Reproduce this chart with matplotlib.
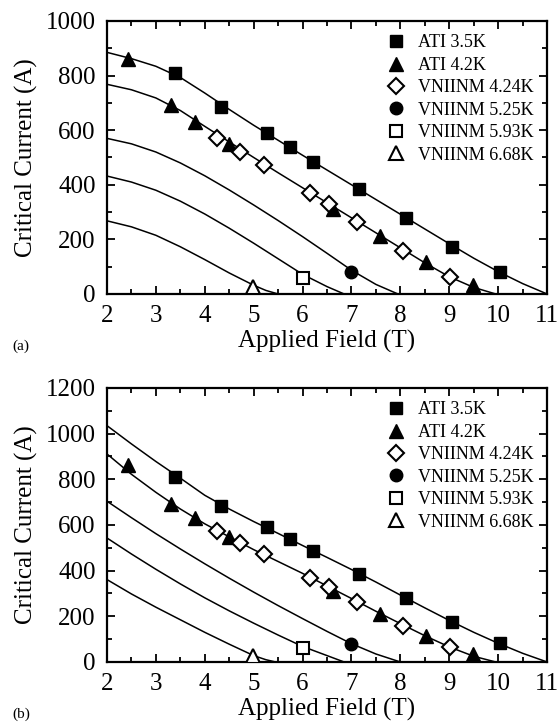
#!/usr/bin/env python3
"""Critical current vs applied field, two fit variants (a) and (b)."""

import matplotlib
matplotlib.use("Agg")
import matplotlib.pyplot as plt
from matplotlib.ticker import MultipleLocator

# measured points (same in both panels)
ati35_x = [3.39, 4.33, 5.27, 5.74, 6.22, 7.16, 8.11, 9.06, 10.03]
ati35_y = [808, 684, 591, 538, 485, 385, 280, 173, 81]
ati42_x = [2.44, 3.30, 3.80, 4.49, 6.62, 7.58, 8.53, 9.49]
ati42_y = [862, 692, 629, 549, 313, 211, 116, 34]
vn424_x = [4.24, 4.73, 5.21, 6.15, 6.55, 7.11, 8.05, 9.01]
vn424_y = [573, 520, 471, 369, 328, 262, 159, 64]
vn525_x = [7.00]
vn525_y = [80]
vn593_x = [6.00]
vn593_y = [60]
vn668_x = [4.98]
vn668_y = [27]

labels = ["ATI 3.5K", "ATI 4.2K", "VNIINM 4.24K", "VNIINM 5.25K",
          "VNIINM 5.93K", "VNIINM 6.68K"]

# fit curves, panel (a)
a1_x = [2, 2.5, 3, 3.5, 4, 4.5, 5, 5.5, 6, 6.5, 7, 7.5, 8, 8.5, 9, 9.5, 10, 10.5, 11]
a1_y = [885, 862, 834, 793, 736, 676, 618, 563, 508, 454, 400, 346, 292, 238, 184, 131, 82, 38, 0]
a2_x = [2, 2.5, 3, 3.5, 4, 4.5, 5, 5.5, 6, 6.5, 7, 7.5, 8, 8.5, 9, 9.5, 9.95]
a2_y = [768, 748, 718, 672, 614, 557, 500, 444, 389, 334, 279, 224, 169, 114, 63, 24, 0]
a3_x = [2, 2.5, 3, 3.5, 4, 4.5, 5, 5.5, 6, 6.5, 7, 7.5, 7.95]
a3_y = [570, 550, 520, 480, 433, 381, 326, 269, 210, 149, 87, 35, 0]
a4_x = [2, 2.5, 3, 3.5, 4, 4.5, 5, 5.5, 6, 6.5, 6.85]
a4_y = [432, 410, 380, 340, 293, 241, 186, 129, 72, 27, 0]
a5_x = [2, 2.5, 3, 3.5, 4, 4.5, 5, 5.25, 5.5]
a5_y = [268, 246, 215, 173, 126, 77, 32, 13, 0]

# fit curves, panel (b)
b1_x = [2, 2.5, 3, 3.5, 4, 4.5, 5, 5.5, 6, 6.5, 7, 7.5, 8, 8.5, 9, 9.5, 10, 10.5, 11]
b1_y = [1035, 955, 878, 805, 730, 670, 615, 563, 510, 458, 405, 350, 293, 237, 182, 130, 82, 38, 0]
b2_x = [2, 2.5, 3, 3.5, 4, 4.5, 5, 5.5, 6, 6.5, 7, 7.5, 8, 8.5, 9, 9.5, 9.95]
b2_y = [911, 822, 743, 670, 605, 548, 492, 440, 388, 333, 278, 222, 168, 115, 66, 25, 0]
b3_x = [2, 2.5, 3, 3.5, 4, 4.5, 5, 5.5, 6, 6.5, 7, 7.5, 8]
b3_y = [704, 632, 562, 495, 430, 367, 306, 247, 190, 134, 80, 35, 0]
b4_x = [2, 2.5, 3, 3.5, 4, 4.5, 5, 5.5, 6, 6.5, 6.85]
b4_y = [543, 473, 406, 342, 281, 224, 170, 118, 68, 28, 0]
b5_x = [2, 2.5, 3, 3.5, 4, 4.5, 5, 5.25, 5.45]
b5_y = [361, 298, 240, 185, 130, 78, 28, 10, 0]

plt.rcParams.update({
    "font.family": ["Liberation Serif", "DejaVu Serif"],
})


def draw_panel(ax, curves, ymax, tag):
    for cx, cy in curves:
        ax.plot(cx, cy, color="black", lw=1.1, zorder=2)

    kw = dict(ls="none", color="black", zorder=3)
    ax.plot(ati35_x, ati35_y, marker="s", ms=8, mfc="black", label=labels[0], **kw)
    ax.plot(ati42_x, ati42_y, marker="^", ms=10, mfc="black", label=labels[1], **kw)
    ax.plot(vn424_x, vn424_y, marker="D", ms=8, mfc="white", mew=1.5, label=labels[2], **kw)
    ax.plot(vn525_x, vn525_y, marker="o", ms=9, mfc="black", label=labels[3], **kw)
    ax.plot(vn593_x, vn593_y, marker="s", ms=8, mfc="white", mew=1.5, label=labels[4], **kw)
    ax.plot(vn668_x, vn668_y, marker="^", ms=10, mfc="white", mew=1.5, label=labels[5], **kw)

    ax.set_xlim(2, 11)
    ax.set_ylim(0, ymax)
    ax.xaxis.set_major_locator(MultipleLocator(1))
    ax.xaxis.set_minor_locator(MultipleLocator(0.5))
    ax.yaxis.set_major_locator(MultipleLocator(200))
    ax.yaxis.set_minor_locator(MultipleLocator(100))
    ax.tick_params(which="both", direction="in", top=True, right=True,
                   labelsize=18, width=1.3, pad=8)
    ax.tick_params(which="major", length=6)
    ax.tick_params(which="minor", length=3.5)
    for sp in ax.spines.values():
        sp.set_linewidth(1.6)

    ax.set_xlabel("Applied Field (T)", fontsize=18, labelpad=2)
    ax.set_ylabel("Critical Current (A)", fontsize=18, labelpad=6)

    ax.legend(loc="upper right", bbox_to_anchor=(1.0, 1.0), frameon=False,
              fontsize=13, handlelength=1.0, handletextpad=0.7,
              labelspacing=0.3, borderaxespad=0.45, borderpad=0.3)
    ax.text(-0.215, -0.19, tag, transform=ax.transAxes, fontsize=11,
            ha="left", va="center")


fig = plt.figure(figsize=(5.6, 7.25), dpi=100)
ax_a = fig.add_axes([0.191, 0.5945, 0.786, 0.3766])
ax_b = fig.add_axes([0.191, 0.0869, 0.786, 0.378])

draw_panel(ax_a, [(a1_x, a1_y), (a2_x, a2_y), (a3_x, a3_y), (a4_x, a4_y), (a5_x, a5_y)],
           1000, "(a)")
draw_panel(ax_b, [(b1_x, b1_y), (b2_x, b2_y), (b3_x, b3_y), (b4_x, b4_y), (b5_x, b5_y)],
           1200, "(b)")

fig.savefig("out.png", dpi=100)
